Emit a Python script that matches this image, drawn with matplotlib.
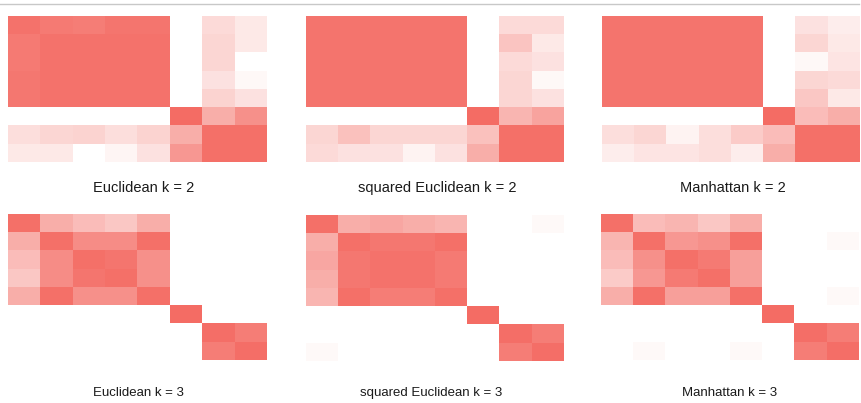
import matplotlib.pyplot as plt
import numpy as np
from matplotlib.colors import LinearSegmentedColormap
from matplotlib.lines import Line2D

# co-clustering matrices, 8 x 8, values 0..1
euclid_k2 = [
    [0.95, 0.90, 0.88, 0.93, 0.93, 0.00, 0.25, 0.15],
    [0.90, 0.95, 0.95, 0.95, 0.95, 0.00, 0.28, 0.15],
    [0.90, 0.95, 0.95, 0.95, 0.95, 0.00, 0.28, 0.00],
    [0.92, 0.95, 0.95, 0.95, 0.95, 0.00, 0.20, 0.05],
    [0.92, 0.95, 0.95, 0.95, 0.95, 0.00, 0.30, 0.20],
    [0.00, 0.00, 0.00, 0.00, 0.00, 1.00, 0.55, 0.75],
    [0.22, 0.28, 0.30, 0.22, 0.30, 0.55, 0.97, 0.97],
    [0.15, 0.15, 0.00, 0.07, 0.20, 0.70, 0.97, 0.97],
]
sq_euclid_k2 = [
    [0.94, 0.94, 0.94, 0.94, 0.94, 0.00, 0.25, 0.25],
    [0.94, 0.94, 0.94, 0.94, 0.94, 0.00, 0.40, 0.15],
    [0.94, 0.94, 0.94, 0.94, 0.94, 0.00, 0.25, 0.20],
    [0.94, 0.94, 0.94, 0.94, 0.94, 0.00, 0.28, 0.05],
    [0.94, 0.94, 0.94, 0.94, 0.94, 0.00, 0.28, 0.20],
    [0.00, 0.00, 0.00, 0.00, 0.00, 1.00, 0.50, 0.62],
    [0.28, 0.42, 0.28, 0.28, 0.28, 0.42, 0.97, 0.97],
    [0.25, 0.20, 0.20, 0.08, 0.20, 0.55, 0.97, 0.97],
]
manhattan_k2 = [
    [0.94, 0.94, 0.94, 0.94, 0.94, 0.00, 0.20, 0.12],
    [0.94, 0.94, 0.94, 0.94, 0.94, 0.00, 0.28, 0.15],
    [0.94, 0.94, 0.94, 0.94, 0.94, 0.00, 0.05, 0.18],
    [0.94, 0.94, 0.94, 0.94, 0.94, 0.00, 0.28, 0.25],
    [0.94, 0.94, 0.94, 0.94, 0.94, 0.00, 0.38, 0.15],
    [0.00, 0.00, 0.00, 0.00, 0.00, 1.00, 0.45, 0.55],
    [0.22, 0.28, 0.08, 0.22, 0.35, 0.45, 0.97, 0.97],
    [0.12, 0.18, 0.18, 0.22, 0.12, 0.55, 0.97, 0.97],
]
euclid_k3 = [
    [0.97, 0.55, 0.45, 0.38, 0.55, 0.00, 0.00, 0.00],
    [0.55, 0.97, 0.78, 0.78, 0.97, 0.00, 0.00, 0.00],
    [0.45, 0.78, 0.97, 0.93, 0.75, 0.00, 0.00, 0.00],
    [0.38, 0.78, 0.93, 0.97, 0.75, 0.00, 0.00, 0.00],
    [0.55, 0.97, 0.75, 0.75, 0.97, 0.00, 0.00, 0.00],
    [0.00, 0.00, 0.00, 0.00, 0.00, 1.00, 0.00, 0.00],
    [0.00, 0.00, 0.00, 0.00, 0.00, 0.00, 0.98, 0.88],
    [0.00, 0.00, 0.00, 0.00, 0.00, 0.00, 0.88, 0.98],
]
sq_euclid_k3 = [
    [0.97, 0.55, 0.60, 0.55, 0.50, 0.00, 0.00, 0.04],
    [0.55, 0.97, 0.92, 0.92, 0.97, 0.00, 0.00, 0.00],
    [0.60, 0.92, 0.95, 0.95, 0.90, 0.00, 0.00, 0.00],
    [0.55, 0.92, 0.95, 0.95, 0.90, 0.00, 0.00, 0.00],
    [0.50, 0.97, 0.88, 0.88, 0.97, 0.00, 0.00, 0.00],
    [0.00, 0.00, 0.00, 0.00, 0.00, 1.00, 0.00, 0.00],
    [0.00, 0.00, 0.00, 0.00, 0.00, 0.00, 0.98, 0.88],
    [0.04, 0.00, 0.00, 0.00, 0.00, 0.00, 0.88, 0.98],
]
manhattan_k3 = [
    [0.97, 0.45, 0.50, 0.38, 0.55, 0.00, 0.00, 0.00],
    [0.50, 0.97, 0.70, 0.75, 0.97, 0.00, 0.00, 0.04],
    [0.45, 0.75, 0.97, 0.90, 0.65, 0.00, 0.00, 0.00],
    [0.35, 0.70, 0.90, 0.97, 0.65, 0.00, 0.00, 0.00],
    [0.55, 0.97, 0.65, 0.65, 0.97, 0.00, 0.00, 0.04],
    [0.00, 0.00, 0.00, 0.00, 0.00, 1.00, 0.00, 0.00],
    [0.00, 0.00, 0.00, 0.00, 0.00, 0.00, 0.98, 0.88],
    [0.00, 0.04, 0.00, 0.00, 0.04, 0.00, 0.88, 0.98],
]

matrices = [euclid_k2, sq_euclid_k2, manhattan_k2,
            euclid_k3, sq_euclid_k3, manhattan_k3]
titles = ["Euclidean k = 2", "squared Euclidean k = 2", "Manhattan k = 2",
          "Euclidean k = 3", "squared Euclidean k = 3", "Manhattan k = 3"]

W, H = 862, 403
cmap = LinearSegmentedColormap.from_list("salmon", ["#ffffff", "#f46c64"])

# pixel boxes of the heatmaps: left, top, right, bottom
boxes = [(8, 16, 267, 162), (306, 16, 563, 162), (602, 16, 860, 162),
         (8, 214, 267, 360), (306, 215, 563, 361), (601, 214, 859, 360)]
title_x = [144, 437, 733, 138, 431, 730]
title_y = [188, 188, 188, 393, 393, 393]
title_size = [10.5, 10.5, 10.5, 9.5, 9.5, 9.5]

plt.rcParams['font.family'] = ['Liberation Sans', 'DejaVu Sans']
fig = plt.figure(figsize=(W / 100, H / 100), dpi=100)

for m, (l, t, r, b) in zip(matrices, boxes):
    ax = fig.add_axes([l / W, 1 - b / H, (r - l) / W, (b - t) / H])
    ax.imshow(np.array(m), cmap=cmap, vmin=0, vmax=1,
              aspect='auto', interpolation='nearest')
    ax.axis('off')

for txt, x, y, s in zip(titles, title_x, title_y, title_size):
    fig.text(x / W, 1 - y / H, txt, ha='center', va='center',
             fontsize=s, color='#1a1a1a')

# thin grey rule along the top
fig.add_artist(Line2D([0, 859 / W], [1 - 4 / H, 1 - 4 / H],
                      color='#c8c8c8', lw=1))

fig.savefig("out.png", dpi=100)
